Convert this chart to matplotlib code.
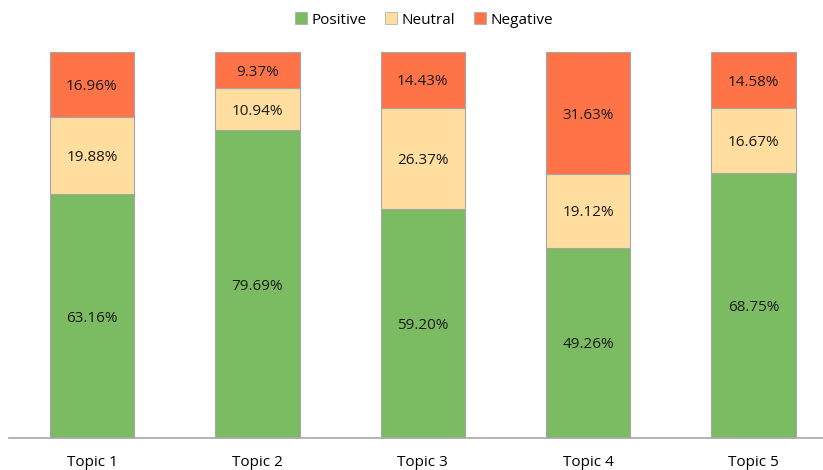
import matplotlib
matplotlib.use("Agg")
import matplotlib.pyplot as plt
from matplotlib.patches import Patch
import numpy as np

categories = ["Topic 1", "Topic 2", "Topic 3", "Topic 4", "Topic 5"]
positive = [63.16, 79.69, 59.20, 49.26, 68.75]
neutral = [19.88, 10.94, 26.37, 19.12, 16.67]
negative = [16.96, 9.37, 14.43, 31.63, 14.58]
series_names = ["Positive", "Neutral", "Negative"]
colors = ["#7BBB61", "#FFDE9F", "#FF7349"]

plt.rcParams['font.family'] = ['Open Sans', 'DejaVu Sans']

fig = plt.figure(figsize=(8.23, 4.70), dpi=100)
ax = fig.add_axes([9.25/823, 32/470, 827/823, (438-52)/470])

x = np.arange(len(categories))
w = 0.51
bottom = np.zeros(len(categories))
for vals, col in zip([positive, neutral, negative], colors):
    vals = np.array(vals)
    ax.bar(x, vals, w, bottom=bottom, color=col, edgecolor="#A6A6A6", linewidth=0.8)
    for xi, b, v in zip(x, bottom, vals):
        ax.text(xi, b + v/2, f"{v:.2f}%", ha="center", va="center_baseline", fontsize=11, color="#1a1a1a")
    bottom += vals

ax.set_xlim(-0.5, 4.5)
ax.set_ylim(0, 100)
ax.set_yticks([])
ax.set_xticks(x)
ax.set_xticklabels(categories, fontsize=11)
ax.tick_params(axis='x', length=0, pad=12)
for s in ["top", "right", "left"]:
    ax.spines[s].set_visible(False)
ax.spines["bottom"].set_color("#A6A6A6")
ax.spines["bottom"].set_linewidth(1.2)

handles = [Patch(facecolor=c, edgecolor="#A6A6A6", linewidth=0.5) for c in colors]
fig.legend(handles, series_names, loc="center", bbox_to_anchor=(0.515, 1 - 20/470), ncol=3,
           frameon=False, fontsize=11, handlelength=0.8, handleheight=0.8,
           handletextpad=0.3, columnspacing=1.2)

fig.savefig("out.png", dpi=100)
